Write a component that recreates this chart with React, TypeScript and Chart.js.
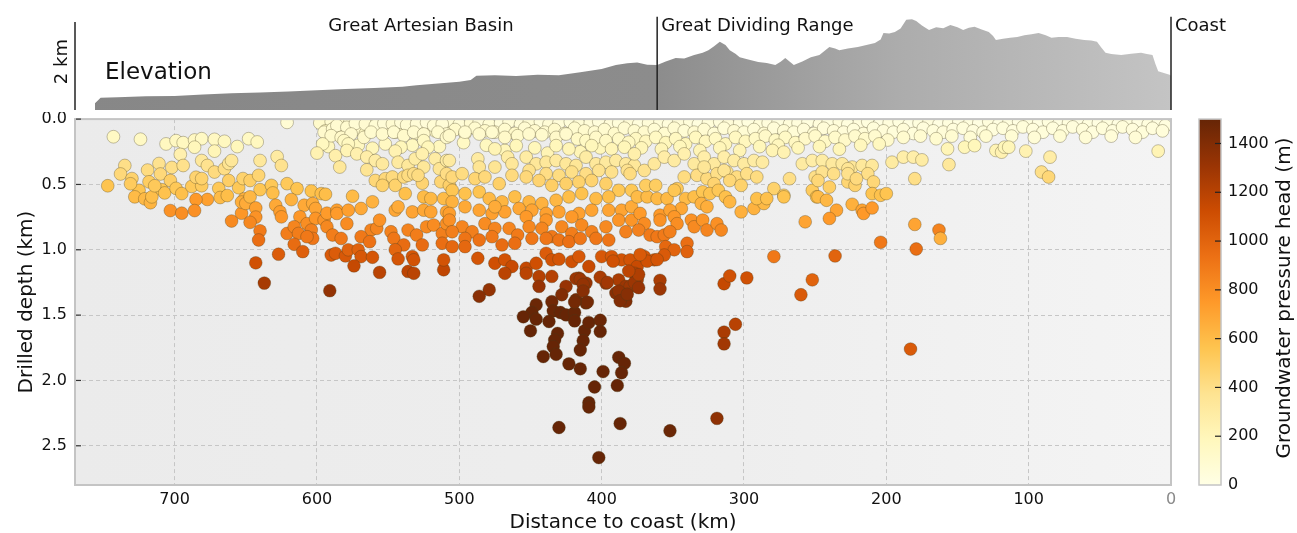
import React, { useEffect, useRef } from 'react';
import { Chart, registerables } from 'chart.js';

Chart.register(...registerables);

const FONT = "'DejaVu Sans', 'Noto Sans', sans-serif";

// ---- axis settings ----
const xTicks = [0, 100, 200, 300, 400, 500, 600, 700];
const yTicks = [0, 0.5, 1.0, 1.5, 2.0, 2.5];
const headTicks = [0, 200, 400, 600, 800, 1000, 1200, 1400];
const headMax = 1500;
const distMax = 770;
const depthMax = 2.8;

// YlOrBr colour map stops
const ylOrBr = ['#ffffe5', '#fff7bc', '#fee391', '#fec44f', '#fe9929', '#ec7014', '#cc4c02', '#993404', '#662506'];

// ---- region markers on the elevation profile ----
const regionNames = ['Great Artesian Basin', 'Great Dividing Range', 'Coast'];
const regionKm = [527, 361, 0];

// ---- elevation profile (distance km, elevation km) ----
const elevDistanceKm = [756, 752, 740, 720, 700, 680, 660, 640, 620, 600, 580, 560, 540, 530, 515, 500, 492, 488, 475, 460, 445, 430, 415, 400, 390, 382, 375, 368, 361, 355, 348, 342, 335, 329, 325, 321, 317, 313, 310, 306, 303, 297, 290, 284, 278, 274, 271, 268, 265, 259, 253, 247, 240, 236, 233, 227, 220, 214, 208, 204, 202, 198, 194, 190, 186, 182, 179, 175, 170, 165, 160, 155, 150, 146, 142, 138, 133, 128, 125, 123, 118, 113, 108, 103, 98, 93, 88, 84, 79, 73, 67, 61, 56, 52, 49, 46, 42, 35, 28, 21, 17, 13, 11, 9, 5, 1, 0];
const elevHeightKm = [0.15, 0.28, 0.29, 0.31, 0.32, 0.35, 0.38, 0.40, 0.42, 0.45, 0.48, 0.50, 0.53, 0.56, 0.60, 0.64, 0.68, 0.78, 0.79, 0.77, 0.80, 0.79, 0.86, 0.93, 1.02, 1.06, 1.08, 1.03, 1.02, 1.10, 1.18, 1.17, 1.25, 1.30, 1.36, 1.45, 1.55, 1.48, 1.36, 1.28, 1.20, 1.15, 1.09, 1.07, 1.02, 1.10, 1.18, 1.10, 1.02, 1.10, 1.20, 1.25, 1.43, 1.40, 1.36, 1.40, 1.43, 1.48, 1.52, 1.60, 1.75, 1.74, 1.77, 1.85, 2.05, 2.06, 2.02, 1.92, 1.82, 1.88, 1.86, 1.93, 1.88, 1.82, 1.87, 1.89, 1.83, 1.77, 1.68, 1.59, 1.62, 1.64, 1.66, 1.70, 1.72, 1.75, 1.70, 1.64, 1.66, 1.66, 1.62, 1.59, 1.58, 1.55, 1.42, 1.30, 1.27, 1.25, 1.28, 1.30, 1.27, 1.25, 1.05, 0.88, 0.84, 0.80, 0.78];

// ---- wells: [distance to coast km, drilled depth km, pressure head m] ----
const shallowRowA: number[][] = [[598,0.03,120],[590,0.02,90],[584,0.04,110],[577,0.03,80],[569,0.02,100],[563,0.04,70],[556,0.03,90],[549,0.02,60],[541,0.04,80],[535,0.03,100],[528,0.02,70],[521,0.04,90],[513,0.03,60],[507,0.02,80],[500,0.04,70],[492,0.03,90],[486,0.02,60],[479,0.04,80],[471,0.03,50],[465,0.02,70],[457,0.04,60],[451,0.03,80],[443,0.02,50],[437,0.04,70],[430,0.03,60],[422,0.02,50],[416,0.04,70],[408,0.03,60],[402,0.02,40],[394,0.04,60],[388,0.03,50],[380,0.02,70],[374,0.04,40],[367,0.03,60],[359,0.02,50],[353,0.04,40],[346,0.03,60],[338,0.02,50],[332,0.04,30],[325,0.03,50],[317,0.02,40],[311,0.04,60],[303,0.03,40],[297,0.02,30],[289,0.04,50],[283,0.03,40],[276,0.02,30],[268,0.04,50],[262,0.03,40],[255,0.02,30],[247,0.04,40],[241,0.03,30],[233,0.02,50],[227,0.04,30],[219,0.03,40],[213,0.02,30],[205,0.04,20],[198,0.03,40],[191,0.02,30],[184,0.04,20],[177,0.03,30],[170,0.02,40],[163,0.04,20],[156,0.03,30],[149,0.02,20],[142,0.04,30],[135,0.03,20],[128,0.02,40],[121,0.04,20],[114,0.03,30],[107,0.02,20],[100,0.04,30],[93,0.03,20],[86,0.02,30],[79,0.04,20],[72,0.03,30],[65,0.02,20],[58,0.04,30],[51,0.03,20],[44,0.02,30],[37,0.04,20],[30,0.03,30],[23,0.02,20],[16,0.04,30],[9,0.03,20],[4,0.05,30]];

const shallowRowB: number[][] = [[594,0.09,150],[587,0.07,130],[580,0.1,140],[573,0.08,120],[566,0.11,150],[559,0.07,110],[552,0.09,130],[545,0.1,120],[538,0.08,140],[531,0.11,110],[524,0.07,130],[517,0.09,120],[510,0.1,100],[503,0.08,120],[496,0.11,130],[489,0.07,100],[482,0.09,120],[475,0.1,110],[468,0.08,100],[461,0.11,130],[454,0.07,90],[447,0.09,110],[440,0.1,100],[433,0.08,120],[426,0.11,90],[419,0.07,100],[412,0.09,110],[405,0.1,90],[398,0.08,100],[391,0.11,120],[384,0.07,90],[377,0.09,100],[370,0.1,110],[363,0.08,80],[356,0.11,100],[349,0.07,90],[342,0.09,80],[335,0.1,100],[328,0.08,90],[321,0.11,80],[314,0.07,70],[307,0.09,90],[300,0.1,80],[293,0.08,70],[286,0.11,90],[279,0.07,60],[272,0.09,80],[265,0.1,70],[258,0.08,60],[251,0.11,80],[244,0.07,60],[237,0.09,70],[230,0.1,60],[223,0.08,50],[216,0.11,70],[209,0.07,50],[202,0.09,60],[195,0.1,50],[188,0.08,60],[181,0.11,50],[174,0.07,40],[167,0.09,50],[160,0.1,60],[153,0.08,40],[146,0.07,50],[139,0.09,40],[132,0.1,50],[125,0.08,40],[118,0.07,50],[111,0.09,40],[104,0.06,50],[97,0.08,40],[90,0.1,50],[83,0.07,40],[76,0.09,50],[69,0.06,40],[62,0.08,50],[55,0.1,40],[48,0.07,50],[41,0.09,40],[34,0.06,50],[27,0.08,40],[20,0.1,50],[13,0.07,40],[6,0.09,50]];

const shallowRowC: number[][] = [[376,0.15,160],[369,0.17,180],[362,0.14,150],[355,0.18,190],[348,0.15,160],[341,0.19,200],[334,0.14,170],[327,0.17,180],[320,0.15,150],[313,0.19,200],[306,0.14,160],[299,0.17,180],[292,0.15,140],[285,0.13,130],[278,0.16,150],[271,0.14,140],[264,0.18,160],[257,0.15,130],[250,0.13,120],[243,0.17,140],[236,0.14,120],[229,0.16,130],[222,0.13,110],[215,0.15,120],[208,0.13,100],[199,0.16,110],[188,0.14,100],[176,0.13,90],[165,0.15,100],[154,0.13,90],[141,0.14,80],[130,0.13,90],[112,0.13,80],[96,0.14,70],[78,0.13,80],[60,0.14,70],[42,0.13,60],[25,0.14,70]];

const shallowRowD: number[][] = [[592,0.21,180],[571,0.2,170],[552,0.19,160],[533,0.2,170],[514,0.21,180],[497,0.18,150],[481,0.2,170],[468,0.24,200],[447,0.22,190],[438,0.26,220],[415,0.25,210],[401,0.22,190],[372,0.22,200],[358,0.23,210],[345,0.21,190],[331,0.24,220],[317,0.22,200],[303,0.24,220],[289,0.21,190],[276,0.2,180],[262,0.22,190],[247,0.21,190],[233,0.23,200],[218,0.2,180],[205,0.19,170]];

const wellsWest: number[][] = [[743,0.135,150],[724,0.154,150],[706,0.19,170],[699,0.165,160],[694,0.18,170],[686,0.16,160],[681,0.15,150],[672,0.155,160],[665,0.17,170],[656,0.21,190],[648,0.15,150],[642,0.175,170],[686,0.215,190],[672,0.245,210],[696,0.27,250],[735,0.355,400],[738,0.42,440],[747,0.51,560],[730,0.455,480],[719,0.39,420],[711,0.34,380],[710,0.42,440],[702,0.37,400],[694,0.355,390],[703,0.47,500],[718,0.48,510],[725,0.545,560],[728,0.595,600],[721,0.61,610],[717,0.64,630],[716,0.595,590],[709,0.54,550],[707,0.565,570],[699,0.53,540],[695,0.57,580],[688,0.515,530],[681,0.51,520],[685,0.445,470],[681,0.455,480],[681,0.317,330],[677,0.355,380],[672,0.405,430],[669,0.53,540],[668,0.6,600],[663,0.585,590],[665,0.38,410],[662,0.34,370],[660,0.317,340],[662,0.47,500],[655,0.525,540],[652,0.455,480],[647,0.47,500],[641,0.43,460],[640,0.317,330],[640,0.54,550],[651,0.61,640],[677,0.615,720],[685,0.615,750],[703,0.70,780],[695,0.72,800],[686,0.70,790],[660,0.78,820],[653,0.72,760],[653,0.635,660],[650,0.645,670],[647,0.595,620],[643,0.68,720],[643,0.75,780],[647,0.79,830],[640,0.855,890],[641,0.925,950],[643,1.10,1100],[637,1.255,1260],[714,0.51,530],[731,0.495,520]];

const wellsBasin: number[][] = [[621,0.025,80],[595,0.10,110],[589,0.076,100],[586,0.05,90],[579,0.063,100],[573,0.033,80],[566,0.038,90],[559,0.05,80],[553,0.033,70],[547,0.038,90],[541,0.025,70],[537,0.045,80],[530,0.038,70],[523,0.025,60],[518,0.05,80],[512,0.038,70],[509,0.114,100],[590,0.127,120],[583,0.14,130],[576,0.114,110],[567,0.14,130],[562,0.10,100],[554,0.114,110],[546,0.10,100],[539,0.127,120],[532,0.10,100],[525,0.114,110],[515,0.10,100],[509,0.14,120],[596,0.19,170],[581,0.165,150],[578,0.19,170],[561,0.223,200],[541,0.215,190],[525,0.165,150],[522,0.215,190],[600,0.26,230],[587,0.28,260],[584,0.367,330],[579,0.24,220],[572,0.266,250],[565,0.29,270],[559,0.317,290],[554,0.342,320],[565,0.388,360],[545,0.245,230],[543,0.33,310],[536,0.355,330],[531,0.304,290],[526,0.266,250],[525,0.367,340],[517,0.304,290],[514,0.38,360],[509,0.317,300],[628,0.287,300],[625,0.355,380],[559,0.47,450],[552,0.456,440],[547,0.443,430],[545,0.507,480],[554,0.507,480],[539,0.443,430],[536,0.43,420],[532,0.418,410],[526,0.49,470],[529,0.43,420],[513,0.48,460],[509,0.418,410],[507,0.507,490],[632,0.507,540],[621,0.494,530],[614,0.532,560],[604,0.55,570],[597,0.57,590],[594,0.575,590],[575,0.59,600],[561,0.633,640],[569,0.684,680],[545,0.697,690],[543,0.671,670],[533,0.71,700],[525,0.595,600],[520,0.608,610],[525,0.697,690],[520,0.71,700],[511,0.608,600],[509,0.71,700],[538,0.57,580],[631,0.565,590],[629,0.659,680],[626,0.71,730],[625,0.748,760],[618,0.616,640],[609,0.659,680],[603,0.646,670],[601,0.684,700],[612,0.748,760],[607,0.80,800],[601,0.76,770],[595,0.773,780],[593,0.72,740],[586,0.697,720],[586,0.722,740],[579,0.80,810],[578,0.697,720],[593,0.824,830],[589,0.887,880],[583,0.913,900],[621,0.875,880],[616,0.824,840],[613,0.875,880],[604,0.849,860],[603,0.913,910],[607,0.90,900],[562,0.849,850],[558,0.836,840],[556,0.773,780],[569,0.90,900],[563,0.938,930],[548,0.862,860],[546,0.913,910],[536,0.849,850],[530,0.887,880],[523,0.824,820],[518,0.811,810],[512,0.875,870],[509,0.80,800],[539,0.963,960],[526,0.963,960],[512,0.95,950],[545,1.0,990],[627,1.034,1040],[616,0.958,960],[610,1.014,1020],[590,1.04,1050],[587,1.027,1040],[580,1.047,1060],[578,1.0,1010],[571,1.0,1010],[569,1.052,1060],[561,1.057,1070],[574,1.123,1150],[556,1.173,1190],[543,1.07,1080],[533,1.052,1070],[532,1.077,1090],[536,1.166,1180],[532,1.18,1190],[511,1.153,1170],[511,1.077,1090],[591,1.313,1330]];

const wellsCentral: number[][] = [[507,0.127,120],[496,0.10,100],[486,0.114,110],[477,0.10,100],[468,0.14,130],[459,0.127,120],[451,0.114,110],[442,0.12,110],[432,0.14,130],[425,0.114,110],[417,0.152,140],[411,0.165,150],[404,0.14,130],[397,0.165,150],[388,0.152,140],[381,0.177,160],[460,0.203,190],[432,0.203,190],[423,0.228,210],[407,0.203,190],[393,0.228,210],[384,0.215,200],[475,0.228,220],[487,0.304,300],[466,0.291,290],[453,0.291,290],[446,0.342,340],[439,0.33,330],[432,0.317,310],[425,0.342,340],[418,0.355,350],[411,0.291,290],[404,0.342,330],[397,0.33,320],[390,0.317,310],[383,0.342,330],[377,0.355,340],[507,0.317,310],[475,0.367,360],[486,0.367,360],[463,0.342,340],[451,0.393,390],[439,0.418,410],[430,0.43,420],[421,0.405,400],[411,0.418,410],[402,0.393,380],[393,0.405,390],[382,0.393,380],[505,0.443,440],[498,0.418,420],[489,0.456,460],[482,0.443,440],[472,0.494,490],[463,0.43,430],[453,0.443,440],[444,0.47,470],[435,0.507,500],[425,0.494,490],[416,0.481,480],[407,0.47,470],[397,0.494,490],[388,0.545,540],[379,0.545,540],[505,0.545,550],[496,0.57,570],[486,0.557,560],[479,0.608,610],[470,0.633,630],[461,0.595,590],[451,0.633,630],[442,0.646,640],[432,0.621,620],[423,0.595,590],[414,0.57,570],[404,0.608,600],[395,0.595,590],[505,0.633,640],[496,0.671,680],[486,0.697,700],[477,0.722,720],[468,0.71,710],[458,0.684,690],[449,0.697,700],[439,0.722,720],[430,0.71,710],[416,0.722,720],[407,0.697,700],[395,0.697,700],[386,0.697,700],[379,0.671,670],[507,0.722,730],[475,0.671,670],[453,0.748,750],[439,0.773,770],[421,0.748,750],[507,0.773,790],[498,0.824,840],[491,0.862,870],[482,0.80,810],[475,0.836,840],[465,0.836,840],[459,0.887,890],[451,0.824,830],[442,0.836,840],[435,0.90,900],[428,0.824,830],[421,0.875,880],[414,0.811,820],[407,0.862,860],[397,0.824,820],[388,0.773,770],[379,0.773,770],[505,0.862,870],[496,0.913,920],[486,0.925,930],[477,0.90,900],[470,0.963,960],[461,0.95,950],[449,0.913,910],[439,0.913,910],[430,0.925,920],[423,0.938,940],[415,0.913,910],[404,0.913,910],[395,0.925,920],[505,0.976,980],[496,0.976,980],[383,0.862,860],[487,1.065,1080],[475,1.103,1110],[468,1.077,1090],[463,1.128,1140],[453,1.141,1150],[446,1.103,1110],[439,1.027,1040],[435,1.077,1090],[430,1.072,1080],[421,1.09,1100],[416,1.052,1060],[409,1.128,1140],[400,1.052,1060],[393,1.052,1060],[386,1.077,1090],[379,1.153,1160],[468,1.18,1190],[453,1.18,1190],[444,1.204,1210],[435,1.204,1210],[425,1.28,1320],[416,1.217,1280],[411,1.255,1320],[397,1.255,1300],[388,1.23,1250],[383,1.28,1300],[444,1.28,1320],[479,1.306,1330],[486,1.356,1370],[428,1.344,1400],[418,1.382,1440],[411,1.407,1450],[390,1.33,1380],[383,1.394,1400],[446,1.42,1480]];

const wellsDeep: number[][] = [[449,1.48,1500],[455,1.513,1500],[446,1.531,1500],[450,1.62,1500],[435,1.397,1460],[434,1.468,1490],[429,1.48,1500],[425,1.498,1500],[419,1.48,1500],[437,1.549,1500],[419,1.544,1500],[431,1.64,1500],[433,1.69,1500],[434,1.741,1500],[432,1.80,1500],[441,1.817,1500],[423,1.873,1500],[415,1.911,1500],[412,1.62,1500],[413,1.696,1500],[415,1.767,1500],[409,1.557,1500],[401,1.539,1480],[401,1.625,1500],[399,1.932,1500],[388,1.823,1500],[384,1.869,1500],[386,1.941,1500],[389,2.038,1500],[405,2.05,1500],[409,2.17,1500],[409,2.203,1500],[430,2.36,1500],[387,2.33,1500],[352,2.385,1480],[402,2.59,1500],[418,1.22,1300],[415,1.227,1300],[413,1.265,1330],[413,1.316,1380],[410,1.40,1450],[419,1.40,1450],[401,1.21,1250],[396,1.25,1280],[388,1.316,1350],[387,1.39,1400],[382,1.34,1380],[377,1.25,1300],[374,1.19,1230],[374,1.29,1320],[359,1.234,1250],[359,1.30,1300],[392,1.087,1100],[381,1.163,1180],[368,1.087,1100],[361,1.075,1080],[373,1.037,1050]];

const wellsRange: number[][] = [[377,0.266,260],[370,0.393,380],[363,0.342,330],[356,0.291,280],[349,0.317,300],[342,0.266,250],[335,0.342,320],[328,0.291,270],[321,0.342,320],[314,0.291,270],[307,0.317,290],[300,0.342,310],[293,0.317,290],[287,0.33,300],[280,0.24,220],[272,0.253,230],[259,0.342,300],[252,0.317,280],[268,0.456,400],[279,0.532,480],[272,0.583,500],[250,0.443,400],[342,0.443,420],[333,0.43,410],[326,0.456,430],[319,0.418,400],[312,0.405,390],[305,0.443,420],[298,0.418,400],[291,0.443,420],[328,0.367,350],[314,0.393,370],[310,0.47,450],[302,0.507,480],[321,0.494,470],[380,0.418,420],[375,0.595,600],[368,0.595,600],[361,0.608,610],[354,0.608,610],[347,0.532,540],[341,0.608,600],[335,0.595,590],[329,0.557,550],[324,0.57,560],[318,0.545,540],[313,0.595,580],[310,0.633,620],[302,0.71,650],[293,0.684,640],[286,0.646,610],[291,0.608,580],[284,0.608,580],[272,0.595,560],[252,0.545,520],[249,0.595,560],[369,0.507,510],[362,0.507,510],[349,0.545,550],[330,0.646,640],[326,0.671,660],[344,0.684,690],[373,0.722,740],[370,0.80,810],[374,0.849,860],[359,0.735,750],[359,0.773,780],[352,0.697,710],[349,0.748,760],[347,0.80,800],[337,0.773,780],[335,0.824,820],[329,0.773,770],[326,0.849,840],[319,0.80,790],[316,0.849,830],[366,0.887,890],[361,0.90,900],[356,0.887,890],[352,0.862,870],[355,0.976,980],[349,1.0,1000],[340,0.95,950],[340,1.014,1010],[257,0.786,700],[279,1.052,900],[380,1.077,1090],[375,1.128,1140],[370,1.052,1060],[363,1.077,1090],[356,1.04,1050],[377,1.18,1200],[375,1.23,1250],[380,1.28,1300],[314,1.26,1150],[310,1.2,1100],[298,1.215,1100],[252,1.23,1000],[260,1.344,1050],[314,1.63,1250],[306,1.57,1200],[314,1.72,1280],[319,2.29,1350]];

const wellsEast: number[][] = [[245,0.317,290],[238,0.342,320],[231,0.342,320],[224,0.367,340],[245,0.405,380],[237,0.418,400],[227,0.38,360],[217,0.355,330],[210,0.355,330],[213,0.418,400],[209,0.481,450],[248,0.47,450],[240,0.52,500],[227,0.481,460],[222,0.507,480],[227,0.418,390],[221,0.456,430],[196,0.33,300],[188,0.291,270],[181,0.291,270],[175,0.312,290],[156,0.348,330],[180,0.456,400],[123,0.24,220],[119,0.253,230],[157,0.228,210],[145,0.215,200],[138,0.203,190],[248,0.595,600],[242,0.621,620],[235,0.697,700],[240,0.76,750],[224,0.652,650],[217,0.697,700],[216,0.722,750],[210,0.68,750],[210,0.57,560],[204,0.583,570],[200,0.57,560],[180,0.806,700],[163,0.849,850],[162,0.913,650],[204,0.943,900],[179,0.994,950],[236,1.047,1000],[183,1.76,1050],[117,0.215,200],[114,0.215,200],[102,0.245,230],[85,0.291,280],[91,0.405,400],[86,0.443,450],[9,0.245,220]];

const allWells = [
  ...shallowRowA, ...shallowRowB, ...shallowRowC, ...shallowRowD,
  ...wellsWest, ...wellsBasin, ...wellsCentral, ...wellsRange, ...wellsEast, ...wellsDeep,
];

function hexToRgb(h: string) {
  const n = parseInt(h.slice(1), 16);
  return [(n >> 16) & 255, (n >> 8) & 255, n & 255];
}
const cmapRgb = ylOrBr.map(hexToRgb);
function headColor(h: number) {
  const t = Math.max(0, Math.min(1, h / headMax));
  const p = t * (cmapRgb.length - 1);
  const i = Math.min(cmapRgb.length - 2, Math.floor(p));
  const f = p - i;
  const a = cmapRgb[i], b = cmapRgb[i + 1];
  const c = a.map((v, k) => Math.round(v + (b[k] - v) * f));
  return `rgb(${c[0]},${c[1]},${c[2]})`;
}

function zeroPadding(s: any) {
  s.paddingTop = 0;
  s.paddingBottom = 0;
  s.paddingLeft = 0;
  s.paddingRight = 0;
}

const elevationDecor = {
  id: 'elevationDecor',
  afterDraw(chart: any) {
    const { ctx, chartArea, scales } = chart;
    const xs = scales.x, ys = scales.y;
    ctx.save();
    ctx.strokeStyle = '#222';
    ctx.lineWidth = 1.5;
    ctx.beginPath();
    ctx.moveTo(chartArea.left, ys.getPixelForValue(0));
    ctx.lineTo(chartArea.left, ys.getPixelForValue(2));
    ctx.stroke();
    ctx.fillStyle = '#111';
    ctx.font = `18px ${FONT}`;
    ctx.textAlign = 'center';
    ctx.textBaseline = 'middle';
    ctx.save();
    ctx.translate(chartArea.left - 13, ys.getPixelForValue(1.1));
    ctx.rotate(-Math.PI / 2);
    ctx.fillText('2 km', 0, 0);
    ctx.restore();
    ctx.font = `23px ${FONT}`;
    ctx.textAlign = 'left';
    ctx.fillText('Elevation', chartArea.left + 30, ys.getPixelForValue(0.84));
    ctx.font = `18px ${FONT}`;
    const labelY = ys.getPixelForValue(1.91);
    for (let i = 0; i < regionNames.length; i++) {
      const px = xs.getPixelForValue(regionKm[i]);
      if (i === 0) {
        ctx.textAlign = 'center';
        ctx.fillText(regionNames[i], px, labelY);
      } else {
        ctx.beginPath();
        ctx.moveTo(px, ys.getPixelForValue(0));
        ctx.lineTo(px, ys.getPixelForValue(2.12));
        ctx.stroke();
        ctx.textAlign = 'left';
        ctx.fillText(regionNames[i], px + 4, labelY);
      }
    }
    ctx.restore();
  },
};

const plotDecor = {
  id: 'plotDecor',
  beforeDraw(chart: any) {
    const { ctx, chartArea } = chart;
    const { left, right, top, bottom } = chartArea;
    const g = ctx.createLinearGradient(left, 0, right, 0);
    g.addColorStop(0, '#ebebeb');
    g.addColorStop(0.6, '#eeeeee');
    g.addColorStop(1, '#f4f4f4');
    ctx.save();
    ctx.fillStyle = g;
    ctx.fillRect(left, top, right - left, bottom - top);
    ctx.restore();
  },
  afterDraw(chart: any) {
    const { ctx, chartArea, scales } = chart;
    const { left, right, top, bottom } = chartArea;
    ctx.save();
    ctx.strokeStyle = '#c4c4c4';
    ctx.lineWidth = 2;
    ctx.strokeRect(left, top, right - left, bottom - top);
    ctx.strokeStyle = '#333';
    ctx.lineWidth = 1.2;
    for (const v of yTicks) {
      const py = scales.y.getPixelForValue(v);
      ctx.beginPath();
      ctx.moveTo(left + 1, py);
      ctx.lineTo(left + 6, py);
      ctx.stroke();
    }
    const cb = scales.cb;
    const y0 = cb.getPixelForValue(0);
    const y1 = cb.getPixelForValue(headMax);
    const bx = 1199, bw = 22;
    const g = ctx.createLinearGradient(0, y0, 0, y1);
    ylOrBr.forEach((c, i) => g.addColorStop(i / (ylOrBr.length - 1), c));
    ctx.fillStyle = g;
    ctx.fillRect(bx, y1, bw, y0 - y1);
    ctx.strokeStyle = '#c4c4c4';
    ctx.lineWidth = 1.5;
    ctx.strokeRect(bx, y1, bw, y0 - y1);
    ctx.strokeStyle = '#222';
    ctx.lineWidth = 1.2;
    for (const v of headTicks) {
      if (v === 0) continue;
      const py = cb.getPixelForValue(v);
      ctx.beginPath();
      ctx.moveTo(bx + bw - 6, py);
      ctx.lineTo(bx + bw, py);
      ctx.stroke();
    }
    ctx.fillStyle = '#111';
    ctx.font = `20px ${FONT}`;
    ctx.textAlign = 'center';
    ctx.textBaseline = 'middle';
    ctx.translate(1285, (top + bottom) / 2 - 4);
    ctx.rotate(-Math.PI / 2);
    ctx.fillText('Groundwater pressure head (m)', 0, 0);
    ctx.restore();
  },
};

export default function App() {
  const topRef = useRef<HTMLCanvasElement>(null);
  const botRef = useRef<HTMLCanvasElement>(null);

  useEffect(() => {
    Chart.defaults.font.family = FONT;
    const topChart = new Chart(topRef.current as HTMLCanvasElement, {
      type: 'line',
      data: {
        datasets: [
          {
            data: elevDistanceKm.map((d, i) => ({ x: d, y: elevHeightKm[i] })),
            fill: 'origin',
            backgroundColor: (c: any) => {
              const { chart } = c;
              const area = chart.chartArea;
              if (!area) return '#888888';
              const g = chart.ctx.createLinearGradient(area.left, 0, area.right, 0);
              g.addColorStop(0, '#878787');
              g.addColorStop(0.53, '#8c8c8c');
              g.addColorStop(0.75, '#acacac');
              g.addColorStop(1, '#c4c4c4');
              return g;
            },
            borderWidth: 0,
            pointRadius: 0,
            tension: 0,
          },
        ],
      },
      options: {
        animation: false,
        responsive: false,
        layout: { padding: { left: 75, right: 126, top: 0, bottom: 2 } },
        plugins: { legend: { display: false }, tooltip: { enabled: false } },
        scales: {
          x: { type: 'linear', min: 0, max: distMax, reverse: true, display: false },
          y: { type: 'linear', min: 0, max: 2.5, display: false },
        },
      },
      plugins: [elevationDecor],
    } as any);

    const tickFont = { family: FONT, size: 16 };
    const titleFont = { family: FONT, size: 20 };
    const botChart = new Chart(botRef.current as HTMLCanvasElement, {
      type: 'scatter',
      data: {
        datasets: [
          {
            data: allWells.map((w) => ({ x: w[0], y: w[1], h: w[2] })),
            pointRadius: 6.4,
            pointBackgroundColor: (c: any) => headColor(c.raw ? c.raw.h : 0),
            pointBorderColor: 'rgba(70,60,30,0.45)',
            pointBorderWidth: 0.7,
          },
        ],
      },
      options: {
        animation: false,
        responsive: false,
        layout: { padding: { top: 5, left: 0, right: 0, bottom: 0 } },
        plugins: { legend: { display: false }, tooltip: { enabled: false } },
        scales: {
          x: {
            type: 'linear',
            min: 0,
            max: distMax,
            reverse: true,
            afterBuildTicks: (s: any) => { s.ticks = xTicks.map((v) => ({ value: v })); },
            afterFit: (s: any) => { s.height = 48; zeroPadding(s); },
            grid: { color: '#c6c6c6', lineWidth: 1, drawTicks: false },
            border: { display: false, dash: [4, 3] },
            ticks: {
              padding: 5,
              font: tickFont,
              color: (c: any) => (c.tick && c.tick.value === 0 ? '#8a8a8a' : '#111'),
              callback: (v: any) => String(v),
            },
            title: { display: true, text: 'Distance to coast (km)', font: titleFont, color: '#111', padding: { top: 0, bottom: -2 } },
          },
          y: {
            type: 'linear',
            min: 0,
            max: depthMax,
            reverse: true,
            afterBuildTicks: (s: any) => { s.ticks = yTicks.map((v) => ({ value: v })); },
            afterFit: (s: any) => { s.width = 75; zeroPadding(s); },
            grid: { color: '#c6c6c6', lineWidth: 1, drawTicks: false },
            border: { display: false, dash: [4, 3] },
            ticks: { padding: 8, font: tickFont, color: '#111', callback: (v: any) => Number(v).toFixed(1) },
            title: { display: true, text: 'Drilled depth (km)', font: titleFont, color: '#111', padding: { top: 15, bottom: 0 } },
          },
          cb: {
            type: 'linear',
            position: 'right',
            min: 0,
            max: headMax,
            afterBuildTicks: (s: any) => { s.ticks = headTicks.map((v) => ({ value: v })); },
            afterFit: (s: any) => { s.width = 126; zeroPadding(s); },
            grid: { display: false, drawTicks: false },
            border: { display: false },
            ticks: { padding: 57, font: tickFont, color: '#111', callback: (v: any) => String(v) },
          },
        },
      },
      plugins: [plotDecor],
    } as any);

    return () => {
      topChart.destroy();
      botChart.destroy();
    };
  }, []);

  return (
    <div style={{ position: 'fixed', left: 0, top: 0, width: 1297, height: 533, background: '#ffffff' }}>
      <canvas ref={topRef} width={1297} height={112} style={{ position: 'absolute', left: 0, top: 0, width: 1297, height: 112 }} />
      <canvas ref={botRef} width={1297} height={421} style={{ position: 'absolute', left: 0, top: 112, width: 1297, height: 421 }} />
    </div>
  );
}
